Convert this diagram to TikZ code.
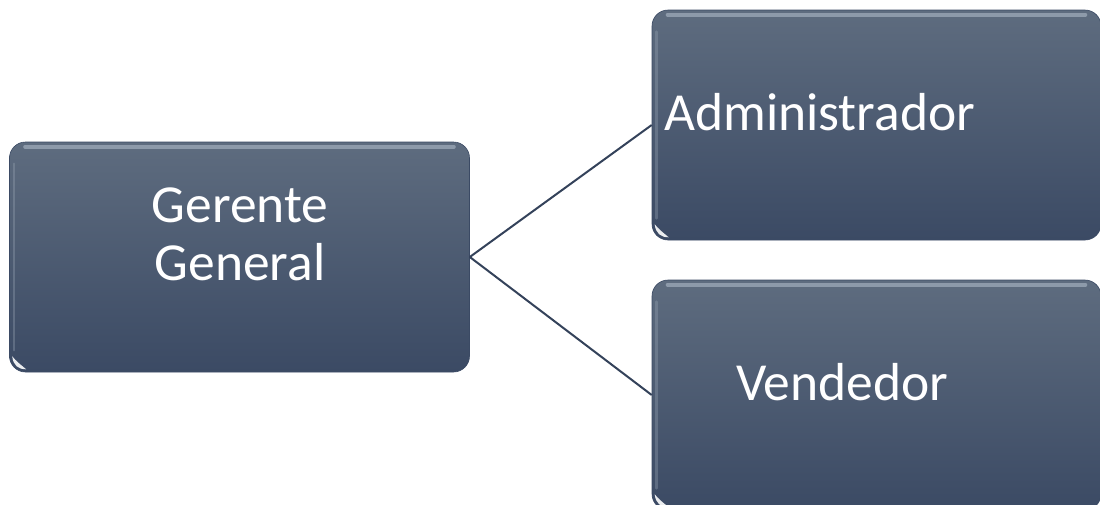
\documentclass[tikz,border=0pt]{standalone}
\usepackage{fontspec}
\setmainfont{Carlito}
\usetikzlibrary{shadings}
\definecolor{boxtop}{HTML}{5E6C7F}
\definecolor{boxbot}{HTML}{3B4A64}
\definecolor{linec}{HTML}{34425A}
\definecolor{glint}{HTML}{9AA6B5}
\tikzset{
  orgbox/.style={rectangle, rounded corners=16pt, top color=boxtop, bottom color=boxbot,
    draw=boxbot, line width=0.6pt, minimum width=#1, minimum height=230pt, inner sep=0pt},
  orgtext/.style={text=white, font=\fontsize{53.5}{58}\selectfont, inner sep=0pt},
  link/.style={draw=linec, line width=2pt},
  topglint/.style={glint, line width=4pt, line cap=round, opacity=0.8},
  sideglint/.style={glint, line width=2.5pt, line cap=round, opacity=0.35},
  cornerglint/.style={white, opacity=0.9}
}
\begin{document}
\begin{tikzpicture}[x=1pt,y=-1pt]
\useasboundingbox (0,0) rectangle (1100,504);
\clip (0,0) rectangle (1100,504);
% boxes
\node[orgbox=460pt] (g) at (239.5,257) {};
\node[orgbox=449pt] (a) at (876.5,125) {};
\node[orgbox=449pt] (v) at (876.5,395) {};
% connectors
\draw[link] (g.east) -- (a.west);
\draw[link] (g.east) -- (v.west);
% highlights
\foreach \b in {g,a,v}{
  \draw[topglint] ([shift={(16,5)}]\b.north west) -- ([shift={(-16,5)}]\b.north east);
  \draw[sideglint] ([shift={(5,22)}]\b.north west) -- ([shift={(5,-22)}]\b.south west);
  \fill[cornerglint] ([shift={(3,-16)}]\b.south west) .. controls ([shift={(4,-7)}]\b.south west) and ([shift={(9,-3)}]\b.south west) .. ([shift={(17,-3)}]\b.south west)
     .. controls ([shift={(11,-8)}]\b.south west) and ([shift={(7,-11)}]\b.south west) .. ([shift={(3,-16)}]\b.south west);
}
% texts
\node[orgtext, anchor=base] (gt1) at (240,222) {Gerente};
\node[orgtext, anchor=base] (gt2) at (240,280) {General};
\node[orgtext, anchor=base west] (at) at (664,130) {Administrador};
\node[orgtext, anchor=base west] (vt) at (736,400) {Vendedor};
\end{tikzpicture}
\end{document}
